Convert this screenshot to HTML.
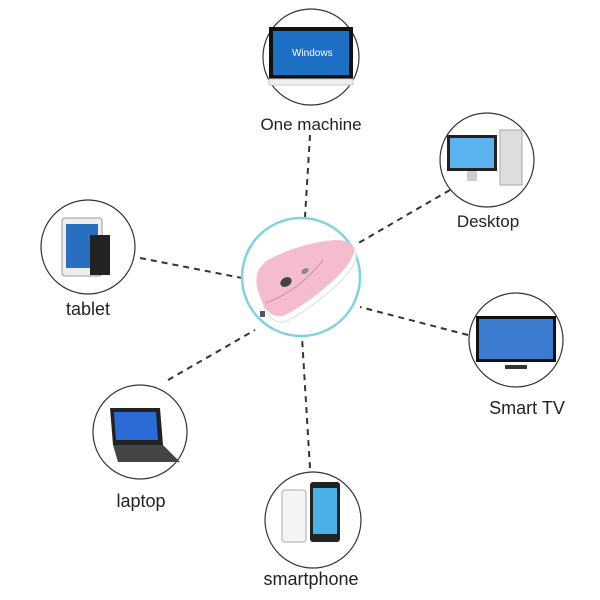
<!DOCTYPE html>
<html><head><style>
body{margin:0;background:#fff;}
svg{display:block;font-family:"Liberation Sans",sans-serif;}
</style></head><body>
<svg width="600" height="600" viewBox="0 0 600 600">
<g stroke="#333" stroke-width="2" stroke-dasharray="6,5" fill="none">
<line x1="310" y1="135" x2="305" y2="217"/>
<line x1="450" y1="190" x2="355" y2="245"/>
<line x1="140" y1="258" x2="242" y2="278"/>
<line x1="468" y1="335" x2="360" y2="307"/>
<line x1="168" y1="380" x2="255" y2="330"/>
<line x1="310" y1="468" x2="302" y2="337"/>
</g>
<circle cx="301" cy="277" r="59" fill="#fff" stroke="#7fd3df" stroke-width="2.5"/>
<!-- mouse -->
<path d="M262 300 Q250 275 268 262 Q300 245 335 242 Q356 242 356 256 Q356 266 340 282 Q310 310 285 322 Q268 324 262 300Z" fill="#fff" stroke="#ddd"/>
<path d="M260 296 Q250 272 268 260 Q300 243 335 240 Q356 240 354 252 Q352 262 336 278 Q308 304 283 316 Q266 318 260 296Z" fill="#f5bcd0"/>
<path d="M266 303 Q300 290 323 260" stroke="#b88a9a" stroke-width="0.8" fill="none"/>
<ellipse cx="286" cy="282" rx="6" ry="4.5" fill="#444" transform="rotate(-30 286 282)"/>
<ellipse cx="305" cy="271" rx="4" ry="2.5" fill="#888" transform="rotate(-30 305 271)"/>
<rect x="260" y="311" width="5" height="6" fill="#555"/>
<g fill="#fff" stroke="#333" stroke-width="1.2">
<circle cx="311" cy="57" r="48"/>
<circle cx="487" cy="160" r="47"/>
<circle cx="88" cy="247" r="47"/>
<circle cx="516" cy="340" r="47"/>
<circle cx="140" cy="432" r="47"/>
<circle cx="313" cy="520" r="48"/>
</g>
<!-- one machine -->
<rect x="269" y="27" width="84" height="52" fill="#111"/>
<rect x="273" y="31" width="76" height="44" fill="#1d6fc4"/>
<text x="292" y="56" font-size="10" fill="#fff">Windows</text>
<rect x="269" y="79" width="84" height="6" fill="#eee" stroke="#ccc"/>
<!-- desktop -->
<rect x="447" y="135" width="50" height="36" fill="#222"/>
<rect x="450" y="138" width="44" height="30" fill="#5ab3ee"/>
<rect x="467" y="171" width="10" height="10" fill="#ccc"/>
<rect x="500" y="130" width="22" height="55" fill="#ddd" stroke="#aaa"/>
<!-- tablet -->
<rect x="62" y="218" width="40" height="58" rx="3" fill="#eee" stroke="#999"/>
<rect x="66" y="224" width="32" height="44" fill="#2a6fbf"/>
<rect x="90" y="235" width="20" height="40" fill="#222"/>
<!-- smart TV -->
<rect x="476" y="316" width="80" height="46" fill="#111"/>
<rect x="479" y="319" width="74" height="40" fill="#3b7bd0"/>
<rect x="505" y="365" width="22" height="4" fill="#333"/>
<!-- laptop -->
<path d="M110 408 L160 408 L163 445 L113 445Z" fill="#222"/>
<path d="M114 412 L156 412 L158 440 L116 440Z" fill="#2b6bd6"/>
<path d="M113 445 L163 445 L180 462 L118 462Z" fill="#444"/>
<!-- smartphone -->
<rect x="282" y="490" width="24" height="52" rx="3" fill="#f4f4f4" stroke="#aaa"/>
<rect x="310" y="482" width="30" height="60" rx="3" fill="#222"/>
<rect x="313" y="488" width="24" height="46" fill="#4ab0e6"/>
<g font-size="17" fill="#222">
<text x="311" y="130" text-anchor="middle">One machine</text>
<text x="488" y="227" text-anchor="middle">Desktop</text>
<text x="88" y="315" text-anchor="middle" font-size="18">tablet</text>
<text x="527" y="414" text-anchor="middle" font-size="18">Smart TV</text>
<text x="141" y="507" text-anchor="middle" font-size="18">laptop</text>
<text x="311" y="585" text-anchor="middle" font-size="18">smartphone</text>
</g>
</svg>
</body></html>
